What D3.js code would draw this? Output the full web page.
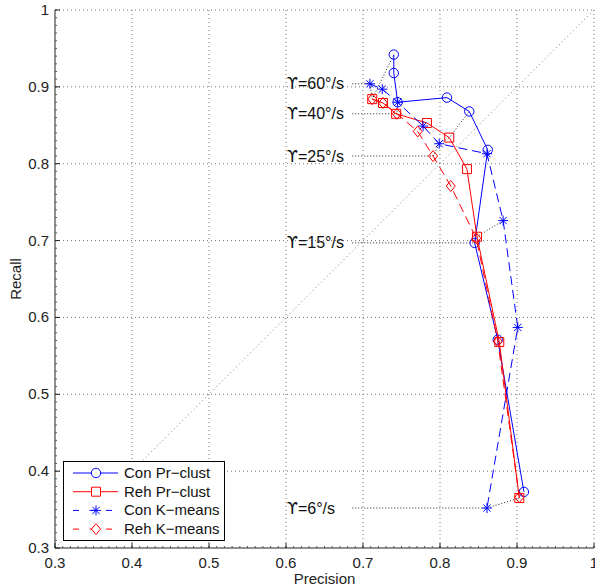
<!DOCTYPE html>
<html>
<head>
<meta charset="utf-8">
<script src="https://cdn.jsdelivr.net/npm/d3@7"></script>
<style>
  body { margin: 0; background: #fff; }
  text { font-family: "Liberation Sans", Arial, sans-serif; }
</style>
</head>
<body>
<div id="chart"></div>
<script>
// precision / recall per run, ordered from highest to lowest angular speed
var conPrP = [0.740, 0.740, 0.745, 0.809, 0.838, 0.862, 0.845, 0.875, 0.909];
var conPrR = [0.942, 0.918, 0.880, 0.886, 0.868, 0.818, 0.697, 0.571, 0.373];
var rehPrP = [0.712, 0.726, 0.743, 0.783, 0.812, 0.835, 0.848, 0.877, 0.903];
var rehPrR = [0.884, 0.879, 0.865, 0.853, 0.834, 0.793, 0.705, 0.568, 0.365];
var conKmP = [0.709, 0.725, 0.745, 0.778, 0.799, 0.861, 0.882, 0.901, 0.861];
var conKmR = [0.904, 0.897, 0.880, 0.849, 0.826, 0.813, 0.726, 0.587, 0.352];
var rehKmP = [0.712, 0.726, 0.744, 0.771, 0.791, 0.814, 0.847, 0.875, 0.903];
var rehKmR = [0.884, 0.879, 0.865, 0.842, 0.810, 0.771, 0.703, 0.569, 0.366];

var seriesNames = ["Con Pr\u2212clust", "Reh Pr\u2212clust", "Con K\u2212means", "Reh K\u2212means"];

// gamma labels and which run they point at
var gammaText = ["=60\u00B0/s", "=40\u00B0/s", "=25\u00B0/s", "=15\u00B0/s", "=6\u00B0/s"];
var gammaIdx = [0, 2, 4, 6, 8];

var xTicks = [0.3, 0.4, 0.5, 0.6, 0.7, 0.8, 0.9, 1];
var yTicks = [0.3, 0.4, 0.5, 0.6, 0.7, 0.8, 0.9, 1];

(function(){
var W = 595, H = 587;
var mL = 55, mR = 594, mT = 10, mB = 548;

var svg = d3.select("#chart").append("svg").attr("width", W).attr("height", H);

var x = d3.scaleLinear().domain([0.3, 1]).range([mL, mR]);
var y = d3.scaleLinear().domain([0.3, 1]).range([mB, mT]);

// grid
svg.append("g").selectAll("line").data(xTicks.slice(1)).enter().append("line")
  .attr("x1", function(d){ return x(d); }).attr("x2", function(d){ return x(d); })
  .attr("y1", mT).attr("y2", mB)
  .attr("stroke", "#777").attr("stroke-width", 1).attr("stroke-dasharray", "1,3");
svg.append("g").selectAll("line").data(yTicks.slice(1)).enter().append("line")
  .attr("y1", function(d){ return y(d); }).attr("y2", function(d){ return y(d); })
  .attr("x1", mL).attr("x2", mR)
  .attr("stroke", "#777").attr("stroke-width", 1).attr("stroke-dasharray", "1,3");

// diagonal precision = recall
svg.append("line")
  .attr("x1", x(0.3)).attr("y1", y(0.3)).attr("x2", x(1)).attr("y2", y(1))
  .attr("stroke", "#777").attr("stroke-dasharray", "1,3");

// axes
var minor = d3.range(30, 101).map(function(v){ return v / 100; });
var ax = svg.append("g");
ax.append("line").attr("x1", mL).attr("x2", mR).attr("y1", mB).attr("y2", mB).attr("stroke", "#222");
ax.append("line").attr("x1", mL).attr("x2", mL).attr("y1", mT).attr("y2", mB).attr("stroke", "#222");
ax.append("g").selectAll("line").data(minor).enter().append("line")
  .attr("x1", function(d){ return x(d); }).attr("x2", function(d){ return x(d); })
  .attr("y1", mB).attr("y2", mB - 2).attr("stroke", "#555");
ax.append("g").selectAll("line").data(minor).enter().append("line")
  .attr("y1", function(d){ return y(d); }).attr("y2", function(d){ return y(d); })
  .attr("x1", mL).attr("x2", mL + 2).attr("stroke", "#555");
ax.append("g").selectAll("line").data(xTicks).enter().append("line")
  .attr("x1", function(d){ return x(d); }).attr("x2", function(d){ return x(d); })
  .attr("y1", mB).attr("y2", mB - 5).attr("stroke", "#222");
ax.append("g").selectAll("line").data(yTicks).enter().append("line")
  .attr("y1", function(d){ return y(d); }).attr("y2", function(d){ return y(d); })
  .attr("x1", mL).attr("x2", mL + 5).attr("stroke", "#222");
ax.append("g").selectAll("text").data(xTicks).enter().append("text")
  .attr("x", function(d){ return x(d); }).attr("y", mB + 20)
  .attr("text-anchor", "middle").style("font-size", "15px").attr("fill", "#222")
  .text(function(d){ return d === 1 ? "1" : d.toFixed(1); });
ax.append("g").selectAll("text").data(yTicks).enter().append("text")
  .attr("x", mL - 6).attr("y", function(d){ return y(d) + 5; })
  .attr("text-anchor", "end").style("font-size", "15px").attr("fill", "#222")
  .text(function(d){ return d === 1 ? "1" : d.toFixed(1); });
svg.append("text").attr("x", (mL + mR) / 2).attr("y", 584)
  .attr("text-anchor", "middle").style("font-size", "15px").attr("fill", "#222").text("Precision");
svg.append("text").attr("transform", "translate(21," + ((mT + mB) / 2) + ") rotate(-90)")
  .attr("text-anchor", "middle").style("font-size", "15px").attr("fill", "#222").text("Recall");

// gamma annotation groups
var allP = [conPrP, rehPrP, conKmP, rehKmP];
var allR = [conPrR, rehPrR, conKmR, rehKmR];
var ann = svg.append("g");
gammaIdx.forEach(function(k, i){
  var pts = allP.map(function(P, s){ return [P[k], allR[s][k]]; });
  pts.sort(function(a, b){ return a[0] - b[0]; });
  ann.append("path")
    .attr("d", d3.line().x(function(d){ return x(d[0]); }).y(function(d){ return y(d[1]); })(pts))
    .attr("fill", "none").attr("stroke", "#222").attr("stroke-dasharray", "1,2");
  ann.append("line")
    .attr("x1", x(0.686)).attr("x2", x(pts[0][0]))
    .attr("y1", y(pts[0][1])).attr("y2", y(pts[0][1]))
    .attr("stroke", "#222").attr("stroke-dasharray", "1,2");
  var t = ann.append("text")
    .attr("x", x(0.601)).attr("y", y(pts[0][1]) + 5.5)
    .style("font-size", "16px").attr("fill", "#111");
  t.append("tspan").style("font-family", "'DejaVu Sans'").text("\u03D2");
  t.append("tspan").text(gammaText[i]);
});

// series
var colors = ["#0000ff", "#ff0000", "#0000ff", "#ff0000"];
var dashes = [null, null, "9,5", "9,5"];
var markers = ["circle", "square", "star", "diamond"];

function markerPath(type){
  if (type === "circle") return d3.symbol().type(d3.symbolCircle).size(Math.PI * 4.7 * 4.7)();
  if (type === "square") return "M-4.5,-4.5H4.5V4.5H-4.5Z";
  if (type === "diamond") return "M0,-5.5L4.5,0L0,5.5L-4.5,0Z";
  return "M-5,0H5M0,-5V5M-3.6,-3.6L3.6,3.6M-3.6,3.6L3.6,-3.6";
}

allP.forEach(function(P, s){
  var pts = P.map(function(p, i){ return [p, allR[s][i]]; });
  var g = svg.append("g");
  g.append("path")
    .attr("d", d3.line().x(function(d){ return x(d[0]); }).y(function(d){ return y(d[1]); })(pts))
    .attr("fill", "none").attr("stroke", colors[s]).attr("stroke-width", 1)
    .attr("stroke-dasharray", dashes[s]);
  g.selectAll("path.m").data(pts).enter().append("path")
    .attr("class", "m")
    .attr("transform", function(d){ return "translate(" + x(d[0]) + "," + y(d[1]) + ")"; })
    .attr("d", markerPath(markers[s]))
    .attr("fill", "none").attr("stroke", colors[s]).attr("stroke-width", 1);
});

// legend
var lg = svg.append("g");
lg.append("rect").attr("x", 63.5).attr("y", 461.5).attr("width", 161).attr("height", 79)
  .attr("fill", "#fff").attr("stroke", "#000");
seriesNames.forEach(function(name, s){
  var ly = 473 + s * 18.7;
  lg.append("line").attr("x1", 73).attr("x2", 118).attr("y1", ly).attr("y2", ly)
    .attr("stroke", colors[s]).attr("stroke-dasharray", dashes[s] ? "6,10.5" : null);
  lg.append("path").attr("transform", "translate(96," + ly + ")")
    .attr("d", markerPath(markers[s])).attr("fill", "#fff").attr("stroke", colors[s]);
  lg.append("text").attr("x", 124).attr("y", ly + 5)
    .style("font-size", "15px").attr("fill", "#111").text(name);
});
})();
</script>
</body>
</html>
